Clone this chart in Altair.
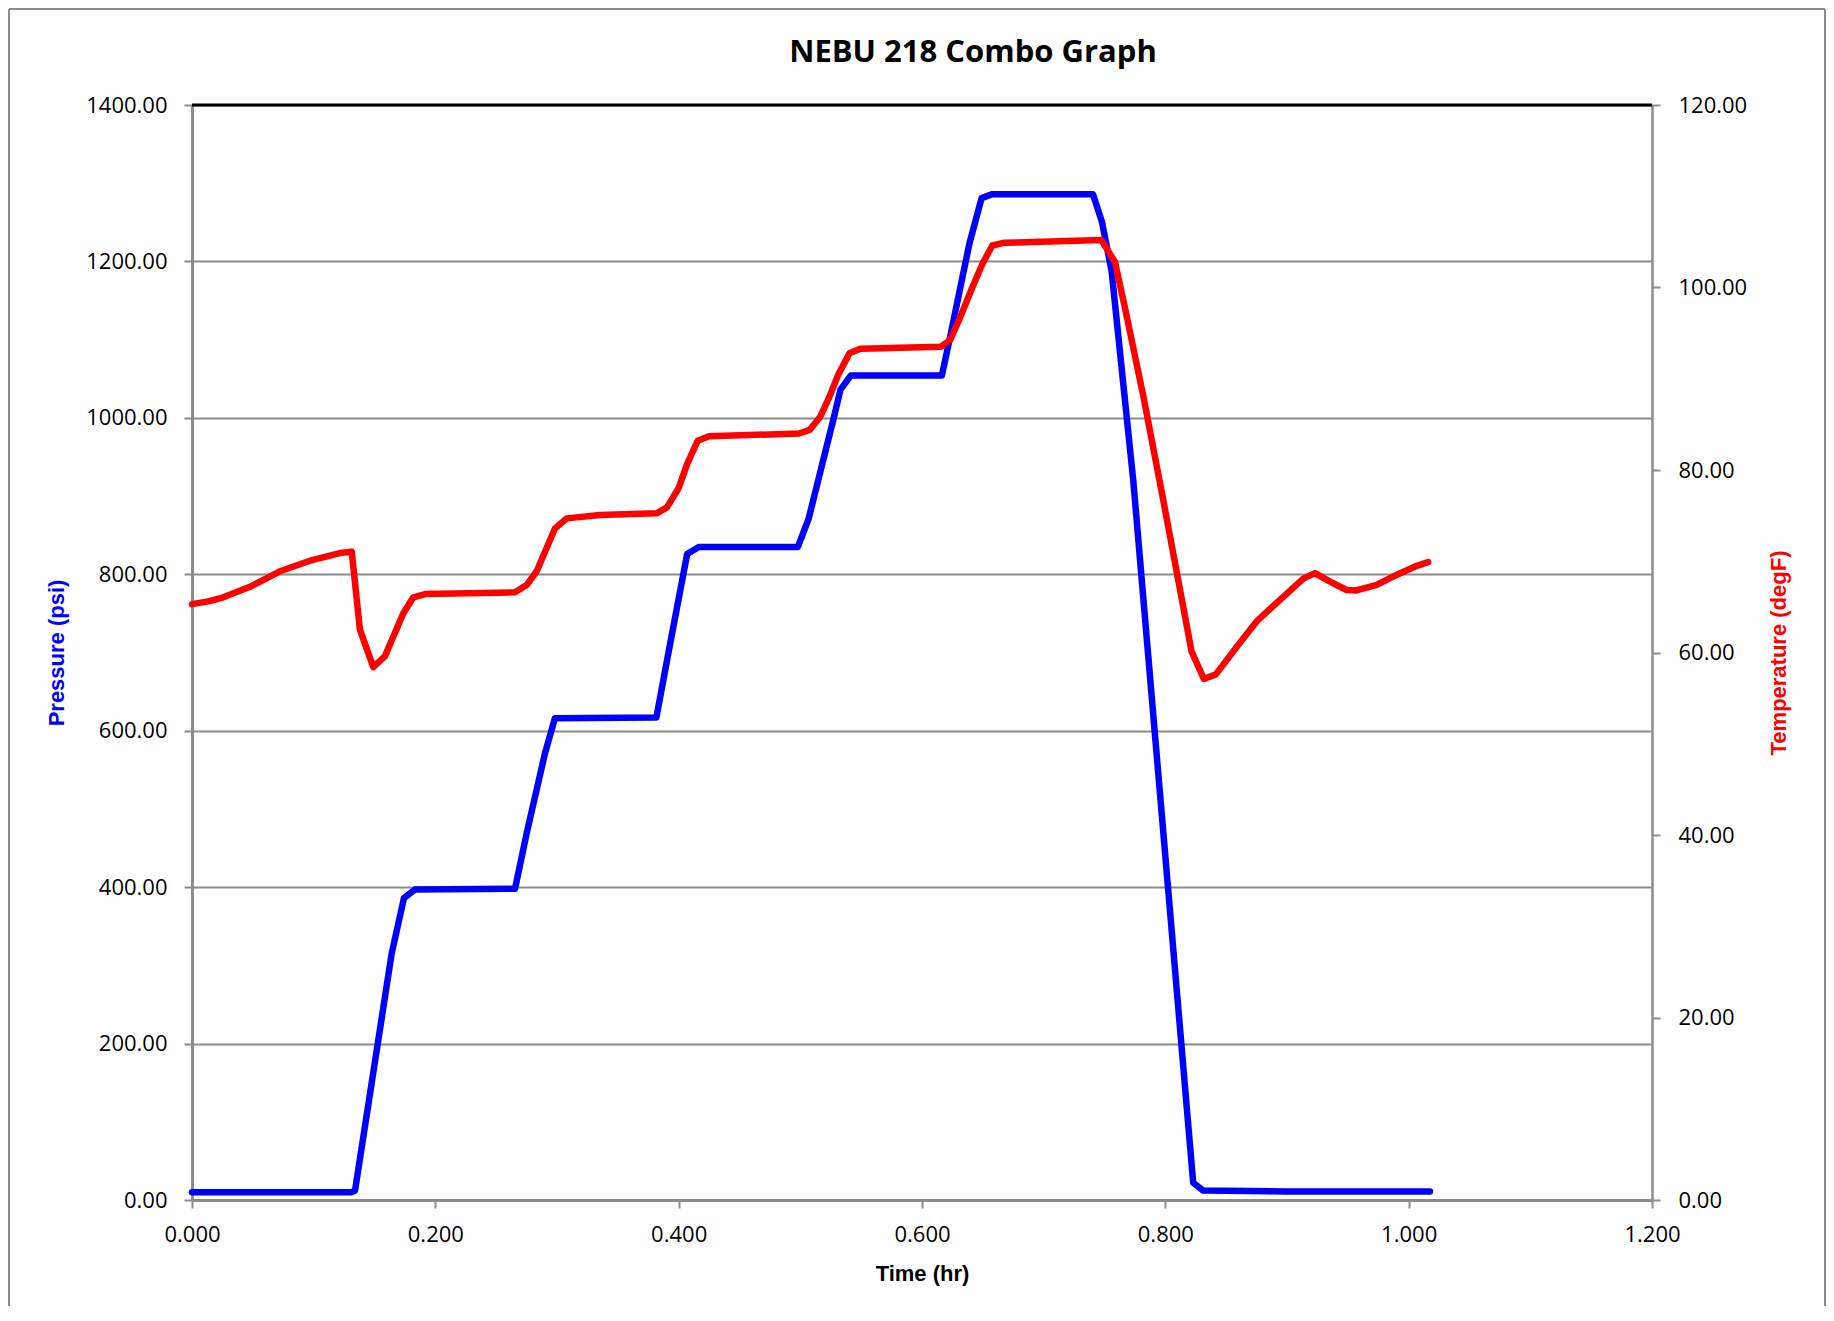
import altair as alt
import pandas as pd

# ---- data ----
time_p = [0.000, 0.1313, 0.1340, 0.1641, 0.1742, 0.1833, 0.2655, 0.2751, 0.2901, 0.2983,
          0.3817, 0.3920, 0.4070, 0.4165, 0.4980, 0.5068, 0.5270, 0.5330, 0.5414, 0.6163,
          0.6232, 0.6310, 0.6390, 0.6490, 0.6578, 0.7405, 0.7480, 0.7559, 0.7737, 0.8229,
          0.8312, 0.9000, 1.0175]
pressure = [10, 10, 12, 315, 386, 397, 398, 469, 571, 616,
            617, 703, 826, 835, 835, 871, 997, 1036, 1054, 1054,
            1104, 1163, 1223, 1281, 1286, 1286, 1250, 1187, 919, 22,
            12, 11, 11]

time_t = [0.000, 0.0134, 0.0257, 0.0477, 0.0723, 0.0970, 0.1216, 0.1313, 0.1380, 0.1490,
          0.1586, 0.1737, 0.1819, 0.1915, 0.2655, 0.2751, 0.2833, 0.2983, 0.3080, 0.3353,
          0.3819, 0.3904, 0.3999, 0.4071, 0.4156, 0.4250, 0.4990, 0.5077, 0.5162, 0.5235,
          0.5310, 0.5404, 0.5492, 0.6153, 0.6232, 0.6310, 0.6404, 0.6499, 0.6578, 0.6671,
          0.7474, 0.7586, 0.7668, 0.7819, 0.7983, 0.8216, 0.8317, 0.8415, 0.8586,
          0.8750, 0.8940, 0.9134, 0.9230, 0.9350, 0.9490, 0.9570, 0.9737, 0.9900, 1.0066,
          1.0160]
temperature = [65.3, 65.6, 66.05, 67.2, 68.9, 70.06, 70.9, 71.05, 62.5, 58.4,
               59.6, 64.3, 66.05, 66.4, 66.6, 67.4, 68.9, 73.6, 74.7, 75.07,
               75.25, 75.9, 78.0, 80.7, 83.2, 83.7, 84.0, 84.4, 85.8, 87.9,
               90.4, 92.8, 93.3, 93.5, 94.25, 96.6, 99.7, 102.65, 104.6, 104.9,
               105.2, 102.8, 97.8, 88.1, 76.7, 60.1, 57.1, 57.6, 60.6,
               63.4, 65.75, 68.1, 68.7, 67.8, 66.85, 66.8, 67.4, 68.5, 69.5,
               69.9]

x_ticks = [0.0, 0.2, 0.4, 0.6, 0.8, 1.0, 1.2]
p_ticks = [0, 200, 400, 600, 800, 1000, 1200, 1400]
t_ticks = [0, 20, 40, 60, 80, 100, 120]

title_text = "NEBU 218 Combo Graph"
x_title = "Time (hr)"
p_title = "Pressure (psi)"
t_title = "Temperature (degF)"

dfp = pd.DataFrame({"t": time_p, "p": pressure})
dft = pd.DataFrame({"t": time_t, "temp": temperature})
one = pd.DataFrame({"a": [0]})

W, H = 1460, 1095
GRAY = "#8c8c8c"

axis_common = dict(
    labelFont="Open Sans", labelFontSize=22, labelColor="#000000",
    titleFont="Liberation Sans", titleFontSize=22, titleFontWeight="bold",
    domainColor=GRAY, domainWidth=3, tickColor=GRAY, tickWidth=2, tickSize=8,
    labelFlush=False, labelOverlap=False,
)

x_enc = alt.X(
    "t:Q",
    scale=alt.Scale(domain=[0, 1.2], nice=False, zero=False),
    axis=alt.Axis(values=x_ticks, format=".3f", title=x_title, grid=False,
                  labelPadding=16, titleX=W / 2, titleY=80, titleBaseline="alphabetic",
                  titleAlign="center", titleColor="#000000", **axis_common),
)

blue = alt.Chart(dfp).mark_line(
    color="#0000FF", strokeWidth=6.5, strokeJoin="round", strokeCap="round"
).encode(
    x=x_enc,
    y=alt.Y("p:Q", scale=alt.Scale(domain=[0, 1400], nice=False),
            axis=alt.Axis(values=p_ticks, format=".2f", title=p_title, orient="left",
                          grid=True, gridColor=GRAY, gridWidth=2, labelPadding=17,
                          titleX=-136, titleY=H / 2, titleAngle=270, titleAlign="center",
                          titleBaseline="middle", titleColor="#0000FF", **axis_common)),
)

red_axis = dict(axis_common)
red_axis["domainWidth"] = 2.5
red = alt.Chart(dft).mark_line(
    color="#FF0000", strokeWidth=6.5, strokeJoin="round", strokeCap="round"
).encode(
    x=x_enc,
    y=alt.Y("temp:Q", scale=alt.Scale(domain=[0, 120], nice=False),
            axis=alt.Axis(values=t_ticks, format=".2f", title=t_title, orient="right",
                          grid=False, labelPadding=18, titleX=126, titleY=H / 2,
                          titleAngle=270, titleAlign="center", titleBaseline="middle",
                          titleColor="#FF0000", **red_axis)),
)

top_line = alt.Chart(one).mark_rule(color="#000000", strokeWidth=3).encode(
    y=alt.value(0), x=alt.value(0), x2=alt.value(W)
)

# outer chart frame (decoration)
frame_left = alt.Chart(one).mark_rule(color=GRAY, strokeWidth=2).encode(
    x=alt.value(-183), y=alt.value(-96), y2=alt.value(1205))
frame_right = alt.Chart(one).mark_rule(color=GRAY, strokeWidth=2).encode(
    x=alt.value(1633), y=alt.value(-96), y2=alt.value(1205))
frame_top = alt.Chart(one).mark_rule(color=GRAY, strokeWidth=2).encode(
    y=alt.value(-96), x=alt.value(-183), x2=alt.value(1633))

chart = alt.layer(
    blue, red, top_line, frame_left, frame_right, frame_top
).resolve_scale(
    y="independent"
).properties(
    width=W, height=H,
    padding={"left": 184, "top": 97, "right": 174, "bottom": 106},
    autosize=alt.AutoSizeParams(type="none"),
    title=alt.TitleParams(title_text, font="Open Sans", fontSize=31, fontWeight="bold",
                          color="#000000", anchor="middle", frame="group",
                          baseline="alphabetic", offset=0, dx=51, dy=85),
).configure_view(
    stroke=None
).configure(
    background="#ffffff"
)

chart.save("out.html", embed_options={"renderer": "svg", "actions": False})
